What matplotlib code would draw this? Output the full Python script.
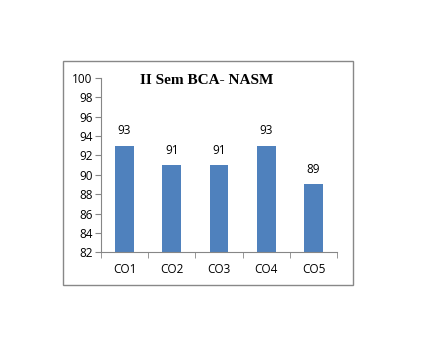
import matplotlib
matplotlib.use("Agg")
import matplotlib.pyplot as plt
from matplotlib.patches import Rectangle
import numpy as np

# course outcome attainment
outcomes = ["CO1", "CO2", "CO3", "CO4", "CO5"]
scores = [93, 91, 91, 93, 89]
yticks = list(range(82, 101, 2))

plt.rcParams['font.family'] = ['Open Sans', 'DejaVu Sans']

fig = plt.figure(figsize=(4.35, 3.5), dpi=100)
ax = fig.add_axes([0.232, 0.279, 0.543, 0.499])

x = np.arange(len(outcomes))
bars = ax.bar(x, scores, width=0.4, color="#4F81BD", zorder=2)

for b, v in zip(bars, scores):
    ax.annotate(str(v), (b.get_x() + b.get_width() / 2, v),
                xytext=(0, 6), textcoords="offset points",
                ha="center", va="bottom", fontsize=8.5)

ax.set_ylim(82, 100)
ax.set_yticks(yticks)
ax.set_xlim(-0.5, len(outcomes) - 0.5)
ax.set_xticks(x)
ax.set_xticklabels(outcomes)
ax.tick_params(axis="x", length=0, pad=8, labelsize=8.5)
ax.tick_params(axis="y", length=4, color="#868686", labelsize=8.5, pad=2)
# category separators on the x axis
ax.set_xticks(np.arange(-0.5, len(outcomes)), minor=True)
ax.tick_params(axis="x", which="minor", length=4, color="#868686")

for s in ["top", "right"]:
    ax.spines[s].set_visible(False)
for s in ["left", "bottom"]:
    ax.spines[s].set_color("#868686")

fig.text(0.476, 0.769, "II Sem BCA- NASM", ha="center", va="center",
         fontsize=11, fontweight="bold", family="Liberation Serif")

# chart border
fig.patches.append(Rectangle((63 / 435, 1 - 285 / 350), 290 / 435, 224 / 350,
                             transform=fig.transFigure, fill=False,
                             edgecolor="#888888", linewidth=1))

fig.savefig("out.png", dpi=100)
